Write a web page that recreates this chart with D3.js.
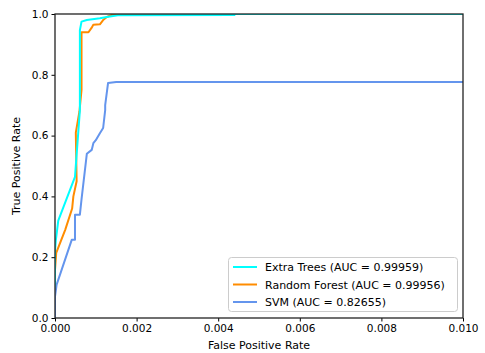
<!DOCTYPE html>
<html><head><meta charset="utf-8">
<script src="https://cdn.jsdelivr.net/npm/d3@7"></script>
<style>body{margin:0;background:#fff}svg{display:block}text{font-family:"DejaVu Sans",sans-serif}</style>
</head><body><svg id="c" width="485" height="353"></svg>
<script>
const xTicks=[0,0.002,0.004,0.006,0.008,0.010];
const yTicks=[0,0.2,0.4,0.6,0.8,1.0];
const seriesNames=["Extra Trees (AUC = 0.99959)","Random Forest (AUC = 0.99956)","SVM (AUC = 0.82655)"];
const seriesColors=["#00ffff","#ff8c00","#6495ed"];
const etFpr=[0,0,0.00002,0.00008,0.00049,0.00061,0.00061,0.00065,0.00078,0.0011,0.00127,0.00154,0.0044,0.0044,1];
const etTpr=[0,0.22,0.255,0.32,0.464,0.684,0.947,0.975,0.98,0.986,0.99,0.996,0.997,1,1];
const rfFpr=[0,0,0.00003,0.00025,0.00042,0.00045,0.00053,0.00051,0.0006,0.00065,0.00065,0.00082,0.0009,0.00094,0.0011,0.00118,0.00127,0.00139,0.0015,1];
const rfTpr=[0,0.158,0.214,0.29,0.36,0.40,0.45,0.61,0.68,0.75,0.94,0.94,0.955,0.965,0.966,0.98,0.99,0.997,1,1];
const svmFpr=[0,0,0.00004,0.00041,0.00049,0.00049,0.00061,0.00065,0.00078,0.0009,0.00094,0.001,0.0011,0.00118,0.00123,0.00123,0.0013,0.0015,1];
const svmTpr=[0,0.07,0.11,0.257,0.257,0.34,0.34,0.39,0.54,0.553,0.575,0.585,0.608,0.625,0.684,0.70,0.773,0.776,0.776];

const svg=d3.select("#c");
const L=55,R=463,T=14,B=318;
const x=d3.scaleLinear().domain([0,0.01]).range([L,R]);
const y=d3.scaleLinear().domain([0,1]).range([B,T]);
svg.append("defs").append("clipPath").attr("id","cl").append("rect").attr("x",L).attr("y",T).attr("width",R-L).attr("height",B-T);
const data=[[etFpr,etTpr],[rfFpr,rfTpr],[svmFpr,svmTpr]];
const line=d3.line().x(d=>x(d[0])).y(d=>y(d[1]));
const g=svg.append("g").attr("clip-path","url(#cl)");
[1,0,2].forEach(i=>{
  const pts=data[i][0].map((f,j)=>[f,data[i][1][j]]);
  g.append("path").attr("d",line(pts)).attr("fill","none").attr("stroke",seriesColors[i]).attr("stroke-width",2).attr("stroke-linejoin","round");
});
const xa=svg.append("g").attr("transform",`translate(0,${B})`).call(d3.axisBottom(x).tickValues(xTicks).tickFormat(d3.format(".3f")).tickSize(3.5).tickPadding(3));
const ya=svg.append("g").attr("transform",`translate(${L},0)`).call(d3.axisLeft(y).tickValues(yTicks).tickFormat(d3.format(".1f")).tickSize(3.5).tickPadding(3));
[xa,ya].forEach(a=>{a.selectAll("text").attr("font-size",10.5).attr("fill","#000").style("font-family","DejaVu Sans");a.selectAll("line").attr("stroke","#000");a.select(".domain").remove();});
svg.append("rect").attr("x",L).attr("y",T).attr("width",R-L).attr("height",B-T).attr("fill","none").attr("stroke","#222").attr("stroke-width",1.3);
svg.append("text").attr("x",(L+R)/2).attr("y",349).attr("text-anchor","middle").attr("font-size",11).text("False Positive Rate");
svg.append("text").attr("transform",`translate(20,${(T+B)/2}) rotate(-90)`).attr("text-anchor","middle").attr("font-size",11).text("True Positive Rate");
const lg=svg.append("g");
lg.append("rect").attr("x",228.5).attr("y",257.5).attr("width",229).attr("height",54).attr("rx",3).attr("fill","#fff").attr("fill-opacity",0.8).attr("stroke","#ccc");
seriesNames.forEach((n,i)=>{
  const yy=267+i*17.5;
  lg.append("line").attr("x1",233).attr("x2",257).attr("y1",yy).attr("y2",yy).attr("stroke",seriesColors[i]).attr("stroke-width",2);
  lg.append("text").attr("x",265).attr("y",yy+4).attr("font-size",11).text(n);
});
</script></body></html>
